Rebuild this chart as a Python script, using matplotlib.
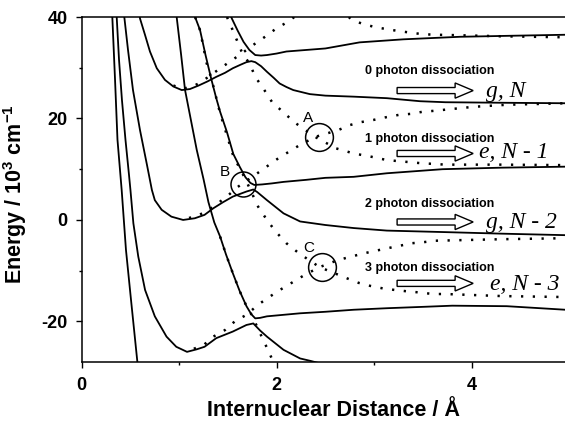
import matplotlib
matplotlib.use("Agg")
import matplotlib.pyplot as plt
from matplotlib.patches import FancyArrow

plt.rcParams['font.family'] = ['Liberation Sans', 'DejaVu Sans']
plt.rcParams['axes.unicode_minus'] = False
plt.rcParams['mathtext.fontset'] = 'custom'
plt.rcParams['mathtext.rm'] = 'Liberation Sans'
plt.rcParams['mathtext.bf'] = 'Liberation Sans:bold'
plt.rcParams['mathtext.default'] = 'bf'

# ---------------- adiabatic (solid) curves ----------------
wall_x = [0.310, 0.314, 0.342, 0.367, 0.410, 0.454, 0.506, 0.570, 0.576]
wall_y = [41.0, 40.0, 27.6, 15.8, 5.9, -5.9, -15.8, -27.8, -28.6]

s1_x = [1.520, 1.540, 1.600, 1.660, 1.720, 1.780, 1.840, 1.900, 2.000, 2.100, 2.300,
        2.500, 2.850, 3.300, 3.880, 4.400, 4.960]
s1_y = [40.6, 39.7, 37.3, 35.1, 33.5, 32.5, 32.4, 32.5, 32.8, 33.2, 33.5,
        33.8, 35.0, 35.6, 36.1, 36.3, 36.5]

s2_x = [0.590, 0.598, 0.649, 0.700, 0.770, 0.854, 0.940, 1.026, 1.110, 1.200, 1.290,
        1.380, 1.470, 1.550, 1.630, 1.690, 1.740, 1.780, 1.840, 1.900, 1.970, 2.030,
        2.100, 2.170, 2.340, 2.500, 2.790, 3.130, 3.470, 3.730, 4.300, 4.960]
s2_y = [41.0, 39.7, 36.5, 33.2, 29.9, 27.6, 26.3, 25.6, 25.8, 26.5, 27.3,
        28.2, 29.0, 29.9, 30.6, 31.1, 31.3, 31.1, 30.3, 29.2, 28.0, 26.9,
        26.2, 25.6, 24.8, 24.5, 24.3, 24.0, 23.4, 23.2, 23.1, 23.0]

s3_x = [1.150, 1.163, 1.214, 1.270, 1.330, 1.380, 1.420, 1.490, 1.555, 1.620, 1.680,
        1.730, 1.770, 1.850, 1.950, 2.070, 2.300, 2.500, 2.790, 3.130, 3.700, 4.300, 4.960]
s3_y = [41.0, 40.0, 37.4, 32.5, 27.7, 24.0, 21.3, 17.3, 13.0, 10.5, 8.4,
        7.3, 6.9, 7.0, 7.2, 7.5, 7.9, 8.3, 8.5, 9.2, 10.0, 10.3, 10.5]

s4_x = [0.430, 0.437, 0.475, 0.526, 0.598, 0.670, 0.720, 0.750, 0.820, 0.920, 1.040,
        1.160, 1.260, 1.350, 1.450, 1.550, 1.620, 1.690, 1.760, 1.800, 1.900, 2.070,
        2.240, 2.500, 2.790, 3.130, 3.730, 4.300, 4.960]
s4_y = [41.0, 40.0, 33.5, 25.6, 17.7, 10.8, 5.9, 3.9, 2.0, 0.65, 0.0,
        0.33, 1.0, 2.3, 3.5, 4.6, 5.1, 5.6, 6.0, 5.5, 3.9, 1.3,
        -0.3, -1.0, -1.6, -2.1, -2.4, -2.7, -3.0]

s5_x = [0.965, 0.974, 1.020, 1.060, 1.120, 1.180, 1.250, 1.300, 1.360, 1.420, 1.480,
        1.550, 1.620, 1.690, 1.740, 1.780, 1.830, 1.900, 2.240, 2.500, 2.790, 3.130,
        3.540, 3.800, 4.360, 4.960]
s5_y = [41.0, 40.0, 32.5, 25.6, 19.7, 13.8, 8.0, 3.5, -0.5, -3.3, -6.8,
        -10.5, -14.0, -17.0, -18.6, -19.4, -19.3, -19.0, -18.4, -18.1, -17.7, -17.4,
        -17.1, -16.9, -17.0, -17.7]

s6_x = [0.355, 0.359, 0.383, 0.413, 0.449, 0.485, 0.500, 0.530, 0.580, 0.650, 0.750,
        0.870, 0.970, 1.080, 1.180, 1.260, 1.380, 1.550, 1.690, 1.760, 1.830, 1.900,
        2.070, 2.240, 2.350, 2.450]
s6_y = [41.0, 40.0, 31.5, 23.6, 15.8, 8.9, 5.9, -0.66, -7.2, -13.8, -19.0,
        -23.0, -25.0, -26.0, -25.5, -25.0, -23.3, -22.0, -20.7, -20.4, -21.8, -23.0,
        -25.6, -27.3, -27.8, -28.3]

# ---------------- diabatic (dotted) curves ----------------
gp2_x = [0.940, 1.026, 1.110, 1.200, 1.300, 1.400, 1.520, 1.640, 1.760, 1.880, 2.000, 2.120, 2.200]
gp2_y = [26.5, 25.9, 26.1, 26.9, 28.2, 29.6, 31.2, 32.8, 34.5, 36.1, 37.8, 39.1, 40.3]

ep1_x = [2.740, 2.770, 2.890, 3.010, 3.130, 3.260, 3.380, 3.500, 3.640, 3.880, 4.300, 4.960]
ep1_y = [40.0, 39.4, 38.6, 38.0, 37.6, 37.2, 36.9, 36.6, 36.5, 36.4, 36.2, 36.0]

em1_x = [1.490, 1.540, 1.590, 1.640, 1.730, 1.780, 1.860, 1.950, 2.080, 2.200, 2.390,
         2.610, 2.790, 2.960, 3.130, 3.300, 3.470, 3.730, 4.300, 4.960]
em1_y = [40.0, 37.8, 35.5, 33.2, 30.5, 28.2, 26.0, 23.3, 21.0, 19.0, 16.4,
         14.1, 13.1, 12.5, 11.8, 11.5, 11.2, 10.9, 10.9, 10.8]

g0_x = [1.100, 1.160, 1.260, 1.350, 1.500, 1.600, 1.780, 2.020, 2.240, 2.400, 2.630,
        2.750, 2.870, 2.990, 3.110, 3.250, 3.370, 3.490, 3.610, 4.020, 4.360, 4.960]
g0_y = [0.4, 0.6, 1.5, 2.6, 4.8, 6.5, 8.9, 12.2, 14.8, 16.4, 17.7,
        18.7, 19.3, 19.7, 20.2, 20.7, 20.9, 21.3, 21.5, 22.3, 22.7, 23.0]

em3_x = [1.163, 1.214, 1.280, 1.330, 1.420, 1.555, 1.680, 1.810, 1.900, 1.990, 2.100,
         2.230, 2.440, 2.720, 2.840, 2.960, 3.090, 3.210, 3.350, 3.470, 3.600, 3.730,
         4.300, 4.960]
em3_y = [40.0, 37.4, 31.0, 27.9, 21.0, 12.6, 8.0, 2.6, 0.0, -2.3, -4.6,
         -6.6, -9.3, -11.5, -12.4, -13.0, -13.5, -13.8, -14.1, -14.3, -14.6, -14.6,
         -15.0, -15.2]

gm2_x = [1.150, 1.260, 1.350, 1.470, 1.570, 1.690, 1.810, 1.930, 2.050, 2.170, 2.290,
         2.440, 2.630, 2.770, 2.890, 3.010, 3.130, 3.260, 3.380, 3.500, 3.620, 4.300, 4.960]
gm2_y = [-25.4, -24.5, -23.0, -21.7, -20.0, -18.7, -16.7, -15.1, -13.6, -12.2, -10.8,
         -9.3, -7.9, -7.2, -6.6, -6.1, -5.6, -5.1, -4.6, -4.4, -4.1, -3.8, -3.6]

em5_x = [1.420, 1.480, 1.550, 1.620, 1.690, 1.740, 1.810, 1.860, 1.910, 1.970]
em5_y = [-3.3, -6.8, -10.5, -14.0, -17.0, -18.6, -21.5, -23.6, -25.6, -28.2]

# ---------------- annotations ----------------
diss_labels = ['0 photon dissociation', '1 photon dissociation',
               '2 photon dissociation', '3 photon dissociation']
diss_y = [28.8, 15.4, 2.5, -10.0]
channel_labels = ['g, N', 'e, N - 1', 'g, N - 2', 'e, N - 3']
channel_x = [4.15, 4.08, 4.15, 4.19]
channel_y = [24.3, 12.2, -1.6, -13.8]
arrow_y = [25.5, 13.1, -0.4, -12.5]
circle_labels = ['A', 'B', 'C']
circle_x = [2.43, 1.65, 2.46]
circle_y = [16.3, 7.1, -9.2]
circle_size = [20, 18, 20]
letter_x = [2.325, 1.47, 2.33]
letter_y = [20.0, 9.4, -5.6]

fig = plt.figure(figsize=(5.65, 4.24), dpi=100)
ax = fig.add_axes([81.7 / 565, 1 - 362 / 424, (565 - 81.7) / 565, 345 / 424])
ax.set_xlim(0, 4.957)
ax.set_ylim(-28, 40)

solid_kw = dict(color='black', lw=1.3, solid_capstyle='round', solid_joinstyle='round')
for xs, ys in [(wall_x, wall_y), (s1_x, s1_y), (s2_x, s2_y), (s3_x, s3_y),
               (s4_x, s4_y), (s5_x, s5_y), (s6_x, s6_y)]:
    ax.plot(xs, ys, **solid_kw)

dot_kw = dict(color='black', lw=1.8, linestyle=(0, (0.9, 3.8)))
for xs, ys in [(gp2_x, gp2_y), (ep1_x, ep1_y), (em1_x, em1_y), (g0_x, g0_y),
               (em3_x, em3_y), (gm2_x, gm2_y), (em5_x, em5_y)]:
    ax.plot(xs, ys, **dot_kw)

for lab, y in zip(diss_labels, diss_y):
    ax.text(3.565, y, lab, ha='center', va='baseline', fontsize=9, fontweight='bold')

for lab, x, y in zip(channel_labels, channel_x, channel_y):
    ax.text(x, y, lab, ha='left', va='baseline', fontsize=17, style='italic',
            family=['Liberation Serif', 'DejaVu Serif'])

for y in arrow_y:
    ax.add_patch(FancyArrow(3.235, y, 0.78, 0, width=1.2, head_width=3.0,
                            head_length=0.185, length_includes_head=True,
                            fc='white', ec='black', lw=1.0))

for x, y, s in zip(circle_x, circle_y, circle_size):
    ax.plot([x], [y], marker='o', ms=s, mfc='none', mec='black', mew=1.1)

for lab, x, y in zip(circle_labels, letter_x, letter_y):
    ax.text(x, y, lab, ha='center', va='center', fontsize=11)

ax.spines['right'].set_visible(False)
for sp in ['left', 'top', 'bottom']:
    ax.spines[sp].set_linewidth(1.1)
ax.set_xticks([0, 2, 4])
ax.set_xticks([1, 3], minor=True)
ax.set_yticks([-20, 0, 20, 40])
ax.set_yticks([-10, 10, 30], minor=True)
ax.tick_params(which='major', length=4, width=1.0, labelsize=13, pad=6)
ax.tick_params(which='minor', length=2.5, width=1.0)
ax.tick_params(axis='x', pad=7)
for t in ax.get_xticklabels() + ax.get_yticklabels():
    t.set_fontweight('bold')

ax.set_xlabel('Internuclear Distance / Å', fontsize=15.5, fontweight='bold')
ax.xaxis.set_label_coords(0.52, -0.11)
ax.set_ylabel(r'Energy / 10$^{3}$ cm$^{-1}$', fontsize=15.5, fontweight='bold')
ax.yaxis.set_label_coords(-0.11, 0.487)

fig.savefig('out.png', dpi=100)
